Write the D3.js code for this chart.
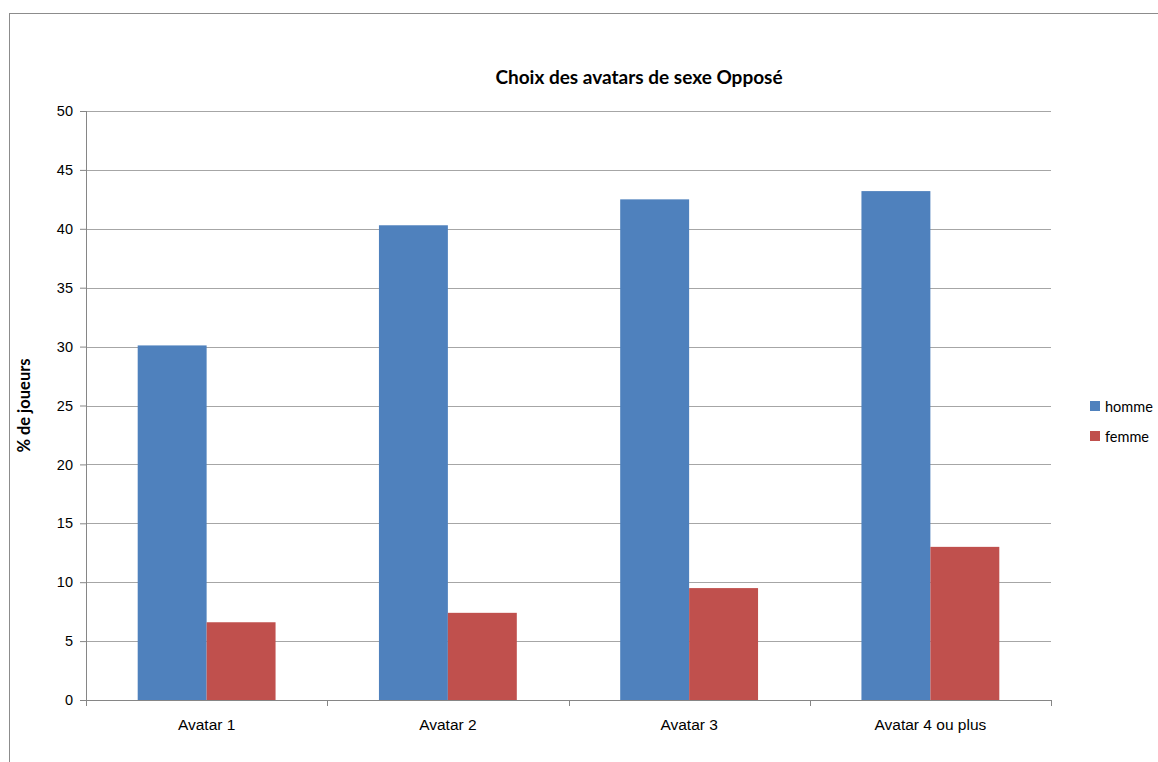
<!DOCTYPE html>
<html>
<head>
<meta charset="utf-8">
<script src="https://cdn.jsdelivr.net/npm/d3@7"></script>
<style>
  body { margin: 0; background: #fff; }
  svg { display: block; font-family: Lato, "Open Sans", sans-serif; }
  .tick text { fill: #000; }
</style>
</head>
<body>
<div id="chart"></div>
<script>
// ===== Data =====
const categories = ["Avatar 1", "Avatar 2", "Avatar 3", "Avatar 4 ou plus"];
const series = ["homme", "femme"];
const homme = [30.1, 40.3, 42.5, 43.2];
const femme = [6.6, 7.4, 9.5, 13.0];
const yTicks = [0, 5, 10, 15, 20, 25, 30, 35, 40, 45, 50];
const colors = { homme: "#4f81bd", femme: "#c0504d" };

// ===== SVG config =====
const W = 1158;
const H = 762;
const M = { top: 111, right: 107, bottom: 62, left: 86 };
const innerW = W - M.left - M.right;
const innerH = H - M.top - M.bottom;

const svg = d3.select("#chart").append("svg")
  .attr("width", W).attr("height", H);

// cadre du graphique
svg.append("rect")
  .attr("x", 9.5).attr("y", 13.5)
  .attr("width", W + 10).attr("height", H + 10)
  .attr("fill", "none").attr("stroke", "#8c8c8c");

const g = svg.append("g").attr("transform", `translate(${M.left},${M.top})`);

const rows = categories.map((c, i) => ({ cat: c, homme: homme[i], femme: femme[i] }));

const x0 = d3.scaleBand().domain(categories).range([0, innerW]).padding(0);
const x1 = d3.scaleBand().domain(series).range([0, x0.bandwidth()])
  .paddingInner(0).paddingOuter(0.75);
const y = d3.scaleLinear().domain([0, 50]).range([innerH, 0]);

// gridlines
g.append("g")
  .selectAll("line")
  .data(yTicks.filter(d => d > 0))
  .enter()
  .append("line")
  .attr("x1", 0).attr("x2", innerW)
  .attr("y1", d => Math.round(y(d)) + 0.5)
  .attr("y2", d => Math.round(y(d)) + 0.5)
  .attr("stroke", "#a6a6a6");

// bars
g.selectAll(".grp")
  .data(rows)
  .enter()
  .append("g")
  .attr("transform", d => `translate(${x0(d.cat)},0)`)
  .selectAll("rect")
  .data(d => series.map(s => ({ key: s, value: d[s] })))
  .enter()
  .append("rect")
  .attr("x", d => x1(d.key))
  .attr("width", x1.bandwidth())
  .attr("y", d => y(d.value))
  .attr("height", d => innerH - y(d.value))
  .attr("fill", d => colors[d.key]);

// y axis
const yAxis = g.append("g")
  .call(d3.axisLeft(y).tickValues(yTicks).tickSize(6).tickPadding(7));
yAxis.select(".domain").attr("stroke", "#868686").attr("d", `M0.5,0V${innerH}`);
yAxis.selectAll(".tick line").attr("stroke", "#868686");
yAxis.selectAll("text").style("font-size", "14.5px");

// x axis
const xAxis = g.append("g")
  .attr("transform", `translate(0,${innerH})`)
  .call(d3.axisBottom(x0).tickSize(0).tickPadding(19));
xAxis.select(".domain").attr("stroke", "#868686").attr("d", `M0,0.5H${innerW}`);
xAxis.selectAll("text").style("font-size", "15.5px");

// séparateurs de catégories
g.append("g")
  .selectAll("line")
  .data(d3.range(categories.length + 1))
  .enter()
  .append("line")
  .attr("x1", i => Math.round(i * x0.step()) + 0.5)
  .attr("x2", i => Math.round(i * x0.step()) + 0.5)
  .attr("y1", innerH).attr("y2", innerH + 6)
  .attr("stroke", "#868686");

// title
svg.append("text")
  .attr("x", 639).attr("y", 84)
  .attr("text-anchor", "middle")
  .style("font-size", "19px").style("font-weight", "bold")
  .text("Choix des avatars de sexe Opposé");

// y axis title
svg.append("text")
  .attr("transform", `translate(30,${M.top + innerH / 2}) rotate(-90)`)
  .attr("text-anchor", "middle")
  .style("font-size", "16.5px").style("font-weight", "bold")
  .text("% de joueurs");

// legend
const legend = svg.append("g").attr("transform", "translate(1090,401)");
legend.selectAll("rect")
  .data(series)
  .enter()
  .append("rect")
  .attr("x", 0).attr("y", (_, i) => i * 30)
  .attr("width", 10).attr("height", 10)
  .attr("fill", d => colors[d]);
legend.selectAll("text")
  .data(series)
  .enter()
  .append("text")
  .attr("x", 15).attr("y", (_, i) => i * 30 + 11)
  .style("font-size", "14.5px")
  .text(d => d);
</script>
</body>
</html>
